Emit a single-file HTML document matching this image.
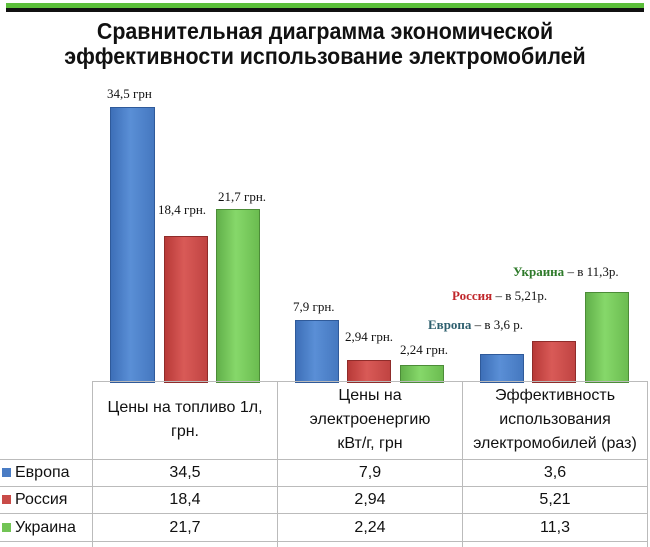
<!DOCTYPE html>
<html><head><meta charset="utf-8"><style>
body{margin:0;width:650px;height:547px;background:#fff;position:relative;overflow:hidden;font-family:"Liberation Sans",sans-serif}
.a{position:absolute}
.t{position:absolute;left:0;width:650px;text-align:center;font-weight:bold;font-size:23px;color:#111;transform:scaleX(0.93);transform-origin:center}
.b{position:absolute;border:1px solid}
.E{background:linear-gradient(90deg,#3d6fb8,#5a8fd6 45%,#4578c0);border-color:#2f5a9a}
.R{background:linear-gradient(90deg,#b83a38,#d95a57 45%,#c04442);border-color:#8f2c2a}
.U{background:linear-gradient(90deg,#62b04a,#86d86a 45%,#6bbc50);border-color:#4c8c38}
.l{position:absolute;font-family:"Liberation Serif",serif;font-size:13px;color:#111;white-space:nowrap}
.c{position:absolute;text-align:center;font-size:16px;color:#111;line-height:24px}
.h{position:absolute;background:#bbb}
.sq{display:inline-block;width:9px;height:9px;margin-right:4px;vertical-align:0}
</style></head><body>
<div class="a" style="left:6px;top:3px;width:638px;height:5px;background:#5cbf3a"></div>
<div class="a" style="left:6px;top:8px;width:638px;height:4px;background:#111"></div>
<div class="t" style="top:18px">Сравнительная диаграмма экономической</div>
<div class="t" style="top:43px">эффективности использование электромобилей</div>

<div class="b E" style="left:110px;top:107px;width:43px;height:274px"></div>
<div class="b R" style="left:164px;top:236px;width:42px;height:145px"></div>
<div class="b U" style="left:216px;top:209px;width:42px;height:172px"></div>
<div class="b E" style="left:295px;top:320px;width:42px;height:61px"></div>
<div class="b R" style="left:347px;top:360px;width:42px;height:21px"></div>
<div class="b U" style="left:400px;top:365px;width:42px;height:16px"></div>
<div class="b E" style="left:480px;top:354px;width:42px;height:27px"></div>
<div class="b R" style="left:532px;top:341px;width:42px;height:40px"></div>
<div class="b U" style="left:585px;top:292px;width:42px;height:89px"></div>

<div class="l" style="left:107px;top:86px">34,5 грн</div>
<div class="l" style="left:158px;top:202px">18,4 грн.</div>
<div class="l" style="left:218px;top:189px">21,7 грн.</div>
<div class="l" style="left:293px;top:299px">7,9 грн.</div>
<div class="l" style="left:345px;top:329px">2,94 грн.</div>
<div class="l" style="left:400px;top:342px">2,24 грн.</div>
<div class="l" style="left:428px;top:317px"><b style="color:#2e5f6e">Европа</b> – в 3,6 р.</div>
<div class="l" style="left:452px;top:288px"><b style="color:#c0262a">Россия</b> – в 5,21р.</div>
<div class="l" style="left:513px;top:264px"><b style="color:#2e7a2a">Украина</b> – в 11,3р.</div>

<div class="h" style="left:92px;top:381px;width:555px;height:1px"></div>
<div class="h" style="left:0;top:459px;width:647px;height:1px"></div>
<div class="h" style="left:0;top:486px;width:647px;height:1px"></div>
<div class="h" style="left:0;top:513px;width:647px;height:1px"></div>
<div class="h" style="left:0;top:541px;width:647px;height:1px"></div>
<div class="h" style="left:92px;top:381px;width:1px;height:166px"></div>
<div class="h" style="left:277px;top:381px;width:1px;height:166px"></div>
<div class="h" style="left:462px;top:381px;width:1px;height:166px"></div>
<div class="h" style="left:647px;top:381px;width:1px;height:166px"></div>

<div class="c" style="left:93px;top:396px;width:184px">Цены на топливо 1л,<br>грн.</div>
<div class="c" style="left:278px;top:384px;width:184px">Цены на<br>электроенергию<br>кВт/г, грн</div>
<div class="c" style="left:463px;top:384px;width:184px">Эффективность<br>использования<br>электромобилей (раз)</div>

<div class="c" style="left:2px;top:461px;text-align:left"><span class="sq" style="background:#4a7cc4"></span>Европа</div>
<div class="c" style="left:2px;top:488px;text-align:left"><span class="sq" style="background:#c94b48"></span>Россия</div>
<div class="c" style="left:2px;top:516px;text-align:left"><span class="sq" style="background:#72c455"></span>Украина</div>

<div class="c" style="left:93px;top:461px;width:184px">34,5</div>
<div class="c" style="left:278px;top:461px;width:184px">7,9</div>
<div class="c" style="left:463px;top:461px;width:184px">3,6</div>
<div class="c" style="left:93px;top:488px;width:184px">18,4</div>
<div class="c" style="left:278px;top:488px;width:184px">2,94</div>
<div class="c" style="left:463px;top:488px;width:184px">5,21</div>
<div class="c" style="left:93px;top:516px;width:184px">21,7</div>
<div class="c" style="left:278px;top:516px;width:184px">2,24</div>
<div class="c" style="left:463px;top:516px;width:184px">11,3</div>
</body></html>
